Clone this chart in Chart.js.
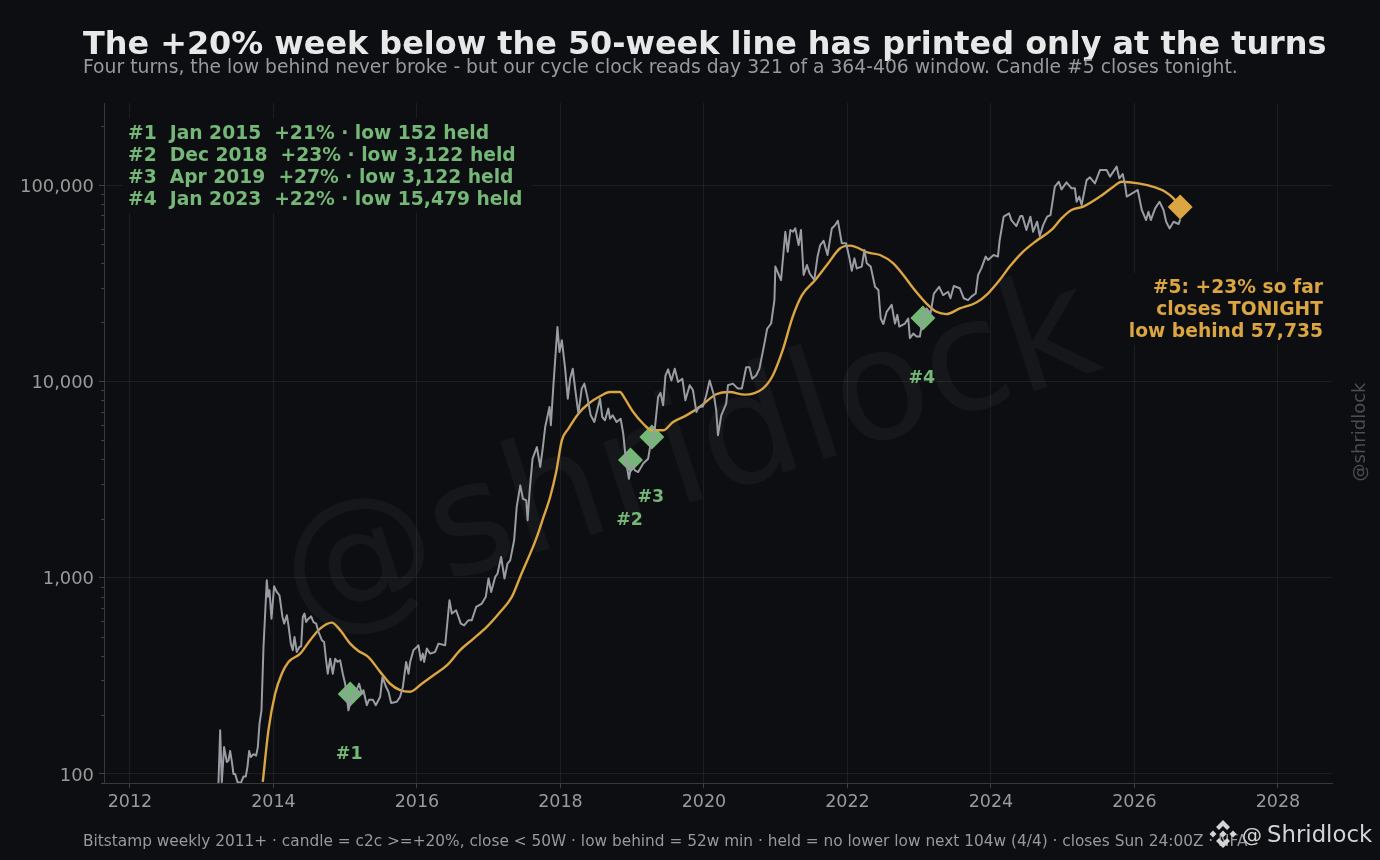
<!DOCTYPE html>
<html><head><meta charset="utf-8">
<style>
html,body{margin:0;padding:0;background:#0c0e11;width:1380px;height:860px;overflow:hidden;font-family:"DejaVu Sans",sans-serif}
#wrap{position:relative;width:1380px;height:860px}
canvas{position:absolute;left:0;top:0}
.t{position:absolute;white-space:nowrap;line-height:1}
#title{left:83px;top:28px;font-size:31.9px;font-weight:700;color:#e8e8e8}
#sub{left:83px;top:57.5px;font-size:18.75px;color:#98999c}
#foot{left:83px;top:834px;font-size:15.35px;color:#98999c}
#at{left:1242px;top:825px;font-size:20px;color:#d4d4d4}
#brand{left:1267px;top:823px;font-size:22.8px;color:#d4d4d4}
#logo{position:absolute;left:1208px;top:819px}
</style>
</head><body><div id="wrap">
<canvas id="c" width="1380" height="860"></canvas>
<div class="t" id="title">The +20% week below the 50-week line has printed only at the turns</div>
<div class="t" id="sub">Four turns, the low behind never broke - but our cycle clock reads day 321 of a 364-406 window. Candle #5 closes tonight.</div>
<div class="t" id="foot">Bitstamp weekly 2011+ · candle = c2c &gt;=+20%, close &lt; 50W · low behind = 52w min · held = no lower low next 104w (4/4) · closes Sun 24:00Z · NFA</div>
<svg id="logo" width="30" height="30" viewBox="0 0 30 30"><g fill="#d4d4d4"><path d="M15 1 L22 8 L19 11 L15 7 L11 11 L8 8 Z"/><path d="M15 29 L8 22 L11 19 L15 23 L19 19 L22 22 Z"/><path d="M5 11.5 L8.5 15 L5 18.5 L1.5 15 Z"/><path d="M25 11.5 L28.5 15 L25 18.5 L21.5 15 Z"/><path d="M15 11.5 L18.5 15 L15 18.5 L11.5 15 Z"/></g></svg>
<div class="t" id="at">@</div><div class="t" id="brand">Shridlock</div>
</div>
<script src="https://cdn.jsdelivr.net/npm/chart.js@4"></script>
<script>
const priceYears=[2013.233,2013.257,2013.28,2013.312,2013.35,2013.373,2013.396,2013.424,2013.442,2013.466,2013.498,2013.545,2013.582,2013.614,2013.638,2013.661,2013.684,2013.721,2013.758,2013.782,2013.805,2013.833,2013.861,2013.907,2013.926,2013.944,2013.972,2014.009,2014.046,2014.084,2014.125,2014.149,2014.186,2014.209,2014.242,2014.269,2014.293,2014.325,2014.362,2014.386,2014.409,2014.432,2014.455,2014.488,2014.525,2014.558,2014.595,2014.627,2014.674,2014.706,2014.734,2014.757,2014.79,2014.827,2014.86,2014.892,2014.929,2014.966,2014.999,2015.022,2015.045,2015.078,2015.138,2015.194,2015.231,2015.254,2015.301,2015.333,2015.385,2015.426,2015.487,2015.519,2015.57,2015.603,2015.64,2015.719,2015.765,2015.803,2015.849,2015.882,2015.905,2015.951,2015.998,2016.021,2016.054,2016.081,2016.1,2016.137,2016.184,2016.253,2016.3,2016.393,2016.453,2016.486,2016.546,2016.611,2016.657,2016.718,2016.764,2016.825,2016.904,2016.959,2016.997,2017.034,2017.09,2017.122,2017.173,2017.22,2017.261,2017.299,2017.354,2017.39,2017.44,2017.477,2017.523,2017.542,2017.569,2017.611,2017.671,2017.718,2017.755,2017.787,2017.847,2017.866,2017.903,2017.958,2017.986,2018.019,2018.065,2018.102,2018.134,2018.171,2018.204,2018.25,2018.296,2018.333,2018.375,2018.421,2018.472,2018.551,2018.583,2018.62,2018.667,2018.69,2018.727,2018.782,2018.838,2018.875,2018.912,2018.954,2018.991,2019.037,2019.083,2019.153,2019.222,2019.245,2019.315,2019.361,2019.394,2019.431,2019.463,2019.5,2019.546,2019.593,2019.639,2019.699,2019.741,2019.801,2019.847,2019.894,2019.926,2019.986,2020.032,2020.079,2020.139,2020.171,2020.195,2020.241,2020.31,2020.334,2020.403,2020.472,2020.528,2020.588,2020.634,2020.672,2020.727,2020.773,2020.843,2020.88,2020.936,2020.982,2020.995,2021.074,2021.134,2021.167,2021.204,2021.241,2021.273,2021.319,2021.352,2021.389,2021.435,2021.472,2021.537,2021.583,2021.62,2021.667,2021.722,2021.782,2021.829,2021.866,2021.921,2021.981,2022.028,2022.06,2022.097,2022.13,2022.199,2022.236,2022.269,2022.324,2022.384,2022.431,2022.463,2022.5,2022.546,2022.616,2022.662,2022.695,2022.722,2022.801,2022.847,2022.87,2022.917,2022.963,2023.009,2023.046,2023.102,2023.158,2023.204,2023.278,2023.333,2023.403,2023.435,2023.482,2023.565,2023.62,2023.681,2023.727,2023.787,2023.82,2023.866,2023.926,2023.959,2024.037,2024.097,2024.12,2024.177,2024.252,2024.284,2024.354,2024.41,2024.438,2024.494,2024.55,2024.587,2024.643,2024.68,2024.727,2024.783,2024.829,2024.89,2024.946,2024.983,2025.053,2025.123,2025.17,2025.193,2025.23,2025.263,2025.333,2025.379,2025.449,2025.519,2025.612,2025.659,2025.752,2025.789,2025.836,2025.869,2025.892,2026.008,2026.046,2026.102,2026.162,2026.195,2026.228,2026.288,2026.349,2026.405,2026.442,2026.489,2026.545,2026.615,2026.638];
const priceValues=[89,167,91,137,115,117,131,113,100,100,91,90,97,97,109,131,122,126,124,137,180,211,443,969,798,862,618,903,845,813,631,583,643,571,461,427,499,418,443,447,631,656,594,618,635,594,583,529,480,470,379,324,386,324,386,372,379,324,288,247,211,237,256,288,256,267,224,239,239,224,247,312,277,262,230,233,247,277,372,324,372,427,443,452,379,410,372,435,410,418,461,452,767,656,682,583,571,607,607,709,738,798,989,845,1008,1047,1274,989,1178,1225,1549,2291,2951,2523,2477,1959,2729,4036,4624,3664,4624,5855,7400,5970,9730,18900,14100,16200,11600,8160,10300,11600,9180,6840,9180,9730,8320,6710,6210,8160,6580,6330,7260,6450,6710,6210,6450,5410,3960,3190,3810,3520,3450,3810,4036,4540,5740,8320,8730,7550,10700,11500,10100,11600,9920,10300,8000,9550,9000,6980,7400,7450,8490,10100,8490,7110,5310,6710,7690,9550,9730,9180,9180,11800,11800,10300,10700,11600,15600,18500,19700,25900,38400,32800,57800,45700,59000,57800,60100,49400,59000,34800,39100,35500,32800,43200,49400,52000,44000,60100,62500,65800,50500,50500,42300,36600,42300,37600,38400,46700,39900,38400,30300,29200,20900,19600,22600,24500,19700,21800,19000,19700,20900,16600,17500,16900,16900,20500,23500,22200,28000,30300,27500,28600,26500,30600,29800,26500,25900,27000,28000,34800,37600,43200,41500,44000,43200,52000,69000,71700,66300,61800,69500,69500,59000,69000,57800,65000,55000,62500,69000,70300,98200,103900,95000,103200,96200,96200,82200,87300,79100,105900,109400,101900,119200,119200,110300,124000,108100,113800,100000,87300,92500,94400,74600,66300,73100,66300,76000,82200,74600,65000,60100,65000,63300,66800];
const maYears=[2013.851,2013.93,2014.023,2014.116,2014.209,2014.372,2014.511,2014.65,2014.813,2014.929,2015.069,2015.185,2015.324,2015.487,2015.626,2015.765,2015.905,2016.067,2016.23,2016.416,2016.602,2016.788,2016.973,2017.159,2017.322,2017.438,2017.662,2017.764,2017.856,2017.94,2018.019,2018.111,2018.25,2018.389,2018.551,2018.69,2018.829,2018.898,2019.014,2019.153,2019.269,2019.431,2019.57,2019.755,2019.94,2020.171,2020.357,2020.565,2020.82,2020.959,2021.097,2021.236,2021.366,2021.551,2021.713,2021.898,2022.037,2022.292,2022.454,2022.639,2022.778,2022.917,2023.102,2023.241,2023.38,2023.565,2023.796,2023.958,2024.121,2024.261,2024.424,2024.634,2024.843,2024.983,2025.123,2025.286,2025.519,2025.706,2025.822,2026.055,2026.288,2026.428,2026.544,2026.638];
const maValues=[91,167,256,324,372,410,480,550,590,540,461,423,394,331,288,267,262,288,318,357,427,489,561,668,798,1008,1580,2037,2576,3450,5000,5740,6840,7690,8390,8830,8830,8160,6980,6080,5630,5630,6210,6710,7400,8590,8830,8550,9180,10700,14400,21300,27500,32800,39100,47600,49100,45200,44000,39900,34800,29800,24900,22600,22000,23500,25200,28000,32800,38400,44900,52000,59000,67600,74600,77600,87300,98100,103900,102000,97300,92500,85500,76900];
const turnYears=[2015.069,2018.976,2019.274,2023.051];
const turnValues=[255,3970,5200,21000];
const turnLabels=['#1','#2','#3','#4'];
const liveYears=[2026.637];
const liveValues=[77200];
const yearTicks=[2012,2014,2016,2018,2020,2022,2024,2026,2028];
const decadeTicks=[100,1000,10000,100000];
const noteLines=['#1  Jan 2015  +21% · low 152 held','#2  Dec 2018  +23% · low 3,122 held','#3  Apr 2019  +27% · low 3,122 held','#4  Jan 2023  +22% · low 15,479 held'];
const liveLines=['#5: +23% so far','closes TONIGHT','low behind 57,735'];

const BG='#0c0e11',GRID='rgba(255,255,255,0.065)',SPINE='#36383c',TICK='#9a9a9a',GREEN='#74b777',GOLD='#dba541';
const FONT='"DejaVu Sans"';
const marks={id:'marks',
 beforeDatasetsDraw(ch){
  const c=ch.ctx;
  c.save();
  c.translate(690.5,460.5);c.rotate(-18*Math.PI/180);
  c.font='154px '+FONT;c.fillStyle='rgba(255,255,255,0.04)';c.textAlign='center';c.textBaseline='middle';
  c.fillText('@shridlock',0,0);
  c.restore();
  c.save();
  c.fillStyle=BG;
  c.fillRect(123,118,409,95);
  c.fillRect(1120,273,212,72);
  const y=ch.scales.y;c.strokeStyle='#3f4145';c.lineWidth=1;c.beginPath();
  decadeTicks.concat([10]).forEach(d=>{for(let m=2;m<10;m++){const v=d*m;if(v<y.min||v>y.max)continue;const p=Math.round(y.getPixelForValue(v))+.5;c.moveTo(104,p);c.lineTo(101,p);}});
  c.stroke();
  c.restore();
 },
 afterDatasetsDraw(ch){
  const c=ch.ctx,x=ch.scales.x,y=ch.scales.y;
  c.save();
  c.textBaseline='middle';
  c.font='bold 17.4px '+FONT;c.fillStyle=GREEN;c.textAlign='center';
  turnLabels.forEach((t,i)=>c.fillText(t,x.getPixelForValue(turnYears[i])-1,y.getPixelForValue(turnValues[i])+60));
  c.font='bold 18.72px '+FONT;c.textAlign='left';
  noteLines.forEach((t,i)=>c.fillText(t,128,134+i*22));
  c.fillStyle=GOLD;c.textAlign='right';
  liveLines.forEach((t,i)=>c.fillText(t,1323,288+i*22));
  c.save();c.translate(1360,432);c.rotate(-Math.PI/2);c.textAlign='center';c.font='18px '+FONT;c.fillStyle='#4c4d50';c.fillText('@shridlock',0,0);c.restore();
  c.restore();
 }};
new Chart(document.getElementById('c'),{
 type:'line',
 data:{datasets:[
  {label:'Weekly close',data:priceYears.map((v,i)=>({x:v,y:priceValues[i]})),borderColor:'#9a9ca3',borderWidth:2,pointRadius:0,tension:0,borderJoinStyle:'round'},
  {label:'50-week MA',data:maYears.map((v,i)=>({x:v,y:maValues[i]})),borderColor:GOLD,borderWidth:2.4,pointRadius:0,cubicInterpolationMode:'monotone'},
  {label:'Turns',data:turnYears.map((v,i)=>({x:v,y:turnValues[i]})),showLine:false,pointStyle:'rectRot',pointRadius:12.5,pointBackgroundColor:GREEN,pointBorderWidth:0},
  {label:'Candle 5',data:liveYears.map((v,i)=>({x:v,y:liveValues[i]})),showLine:false,pointStyle:'rectRot',pointRadius:12.5,pointBackgroundColor:GOLD,pointBorderWidth:0}
 ]},
 options:{responsive:false,animation:false,devicePixelRatio:1,
  layout:{padding:{top:103,right:48,left:0,bottom:0}},
  plugins:{legend:{display:false},tooltip:{enabled:false},title:{display:false}},
  scales:{
   x:{type:'linear',min:2011.638,max:2028.753,
    afterBuildTicks(s){s.ticks=yearTicks.map(v=>({value:v}));},
    afterFit(s){s.height=77;},
    border:{display:true,color:SPINE},
    grid:{color:GRID,tickColor:'#3f4145',tickLength:5,lineWidth:1},
    ticks:{color:TICK,font:{family:FONT,size:17.5},padding:4,maxRotation:0,autoSkip:false,callback:v=>String(v)}},
   y:{type:'logarithmic',min:89.9,max:261700,
    afterBuildTicks(s){s.ticks=decadeTicks.map(v=>({value:v}));},
    afterFit(s){s.width=104;},
    border:{display:true,color:SPINE},
    grid:{color:GRID,tickColor:'#3f4145',tickLength:5,lineWidth:1},
    ticks:{color:TICK,font:{family:FONT,size:17.9},padding:5,labelOffset:2,autoSkip:false,callback:v=>Number(v).toLocaleString('en-US')}}
  }},
 plugins:[marks]
});
</script>
</body></html>
